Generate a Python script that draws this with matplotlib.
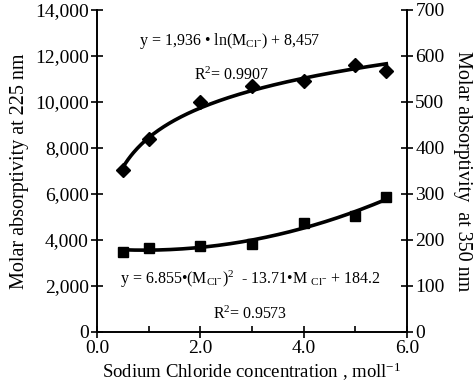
import numpy as np
import matplotlib
matplotlib.use("Agg")
import matplotlib.pyplot as plt
from matplotlib.ticker import MultipleLocator, FuncFormatter

# Data
x_conc = [0.5, 1.0, 2.0, 3.0, 4.0, 5.0, 5.6]
eps_225 = [7030, 8400, 10000, 10680, 10900, 11600, 11350]
eps_350 = [174, 183, 186, 190, 237, 251, 293]

xticks = [0.0, 2.0, 4.0, 6.0]
left_ticks = [0, 2000, 4000, 6000, 8000, 10000, 12000, 14000]
right_ticks = [0, 100, 200, 300, 400, 500, 600, 700]

plt.rcParams['font.family'] = ['Liberation Serif', 'DejaVu Serif']
plt.rcParams['mathtext.fontset'] = 'custom'
plt.rcParams['mathtext.rm'] = 'Liberation Serif'
plt.rcParams['mathtext.it'] = 'Liberation Serif'
plt.rcParams['mathtext.bf'] = 'Liberation Serif'

fig = plt.figure(figsize=(4.74, 3.87), dpi=100)
ax = fig.add_axes([97/474, 1-331.7/387, (407-97)/474, (331.7-10)/387])
ax2 = ax.twinx()

# trendlines fitted from the data
xs = np.linspace(min(x_conc), max(x_conc), 200)
c1 = np.polyfit(np.log(x_conc), eps_225, 1)
ax.plot(xs, np.polyval(c1, np.log(xs)), color='black', lw=2.6, zorder=2)
c2 = np.polyfit(x_conc, eps_350, 2)
ax2.plot(xs, np.polyval(c2, xs), color='black', lw=2.6, zorder=2)

ax.plot(x_conc, eps_225, linestyle='none', marker='D', color='black', ms=7.5, zorder=3)
ax2.plot(x_conc, eps_350, linestyle='none', marker='s', color='black', ms=7.5, zorder=3)

ax.set_xlim(0, 6)
ax.set_ylim(0, 14000)
ax2.set_ylim(0, 700)
ax.set_xticks(xticks)
ax.xaxis.set_minor_locator(MultipleLocator(1.0))
ax.set_yticks(left_ticks)
ax2.set_yticks(right_ticks)
ax.xaxis.set_major_formatter(FuncFormatter(lambda v, p: f"{v:.1f}"))
ax.yaxis.set_major_formatter(FuncFormatter(lambda v, p: f"{int(v):,}"))

for a in (ax, ax2):
    a.spines['top'].set_visible(False)
    for s in a.spines.values():
        s.set_linewidth(1.2)
ax.tick_params(axis='both', which='major', direction='inout', length=8, width=1.2, labelsize=14, pad=2)
ax.tick_params(axis='x', which='minor', direction='in', length=4, width=1.2)
ax2.tick_params(axis='y', which='major', direction='inout', length=8, width=1.2, labelsize=14, pad=2)

ax.set_ylabel('Molar absorptivity at 225 nm', fontsize=14.5, labelpad=4)
ax2.set_ylabel('Molar absorptivity  at 350 nm', fontsize=14.5, rotation=270, labelpad=20)
ax.set_xlabel(r'Sodium Chloride concentration , moll$^{\mathregular{-1}}$', fontsize=13.5, labelpad=3)

tfs = 11.5
ax.text(0.82, 12650,
        r'y = 1,936 • ln(M$_{\mathregular{Cl^{-}}}$) + 8,457', fontsize=tfs, va='center', ha='left')
ax.text(1.87, 11150, r'R$^{\mathregular{2}}$= 0.9907', fontsize=tfs, va='center', ha='left')
ax.text(0.44, 2290,
        r'y = 6.855•(M$_{\mathregular{Cl^{-}}}$)$^{\mathregular{2}}$  - 13.71•M $_{\mathregular{Cl^{-}}}$ + 184.2',
        fontsize=tfs, va='center', ha='left')
ax.text(2.24, 770, r'R$^{\mathregular{2}}$= 0.9573', fontsize=tfs, va='center', ha='left')

fig.savefig('out.png', dpi=100)
